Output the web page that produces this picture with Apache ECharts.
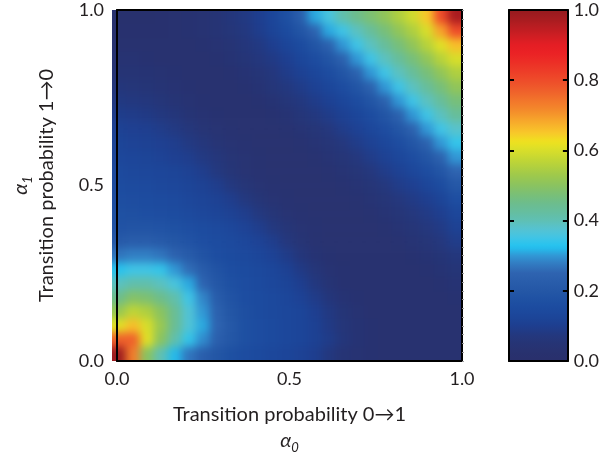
<!DOCTYPE html>
<html>
<head>
<meta charset="utf-8">
<script src="https://cdn.jsdelivr.net/npm/echarts@6/dist/echarts.min.js"></script>
<style>
  html, body { margin: 0; padding: 0; background: #fff; }
  #wrap { position: relative; width: 602px; height: 460px; }
  #clip { position: absolute; left: 112px; top: 10px; width: 350px; height: 351px; overflow: hidden; }
  /* heatmap layer, one padding cell wider on every side, softened */
  #heat { position: absolute; left: -14px; top: -14.04px; width: 378px; height: 379.08px; filter: blur(4px); }
  #chart { position: absolute; left: 0; top: 0; width: 602px; height: 460px; }
</style>
</head>
<body>
<div id="wrap">
  <div id="clip"><div id="heat"></div></div>
  <div id="chart"></div>
</div>
<script>
// cell centres along a0 (x) and a1 (y)
const a0Cells = ['0.02','0.06','0.10','0.14','0.18','0.22','0.26','0.30','0.34','0.38','0.42','0.46','0.50',
  '0.54','0.58','0.62','0.66','0.70','0.74','0.78','0.82','0.86','0.90','0.94','0.98'];
const a1Cells = a0Cells.slice();

// one row per a1 value, from a1 = 0.98 (top) down to a1 = 0.02 (bottom)
const rows = [
  [.02,.02,.02,.025,.03,.035,.04,.05,.065,.08,.10,.13,.17,.23,.31,.36,.41,.45,.48,.51,.55,.59,.65,.80,.97],
  [.025,.025,.025,.025,.03,.035,.04,.05,.06,.075,.095,.12,.15,.19,.25,.31,.35,.39,.43,.47,.51,.55,.60,.69,.80],
  [.03,.03,.03,.03,.03,.03,.035,.04,.05,.065,.08,.10,.125,.15,.19,.24,.30,.35,.39,.43,.47,.51,.56,.61,.66],
  [.04,.04,.035,.03,.03,.03,.03,.035,.045,.055,.07,.085,.105,.13,.155,.19,.24,.30,.35,.39,.43,.47,.51,.56,.60],
  [.05,.05,.045,.04,.035,.03,.03,.03,.035,.045,.055,.07,.09,.11,.13,.155,.19,.24,.30,.35,.39,.43,.47,.51,.55],
  [.065,.06,.055,.05,.04,.035,.03,.03,.03,.035,.045,.06,.075,.09,.11,.13,.155,.19,.24,.30,.35,.39,.43,.47,.51],
  [.08,.075,.07,.06,.05,.04,.035,.03,.03,.03,.035,.045,.06,.075,.09,.11,.13,.155,.19,.24,.30,.35,.39,.43,.47],
  [.095,.09,.085,.075,.065,.05,.04,.035,.03,.03,.03,.035,.045,.06,.075,.09,.11,.13,.155,.19,.24,.30,.35,.39,.43],
  [.11,.105,.10,.09,.08,.065,.05,.04,.035,.03,.03,.03,.035,.045,.055,.07,.09,.11,.13,.155,.19,.24,.30,.35,.38],
  [.12,.115,.11,.105,.095,.08,.065,.05,.04,.035,.03,.03,.03,.035,.045,.055,.07,.09,.11,.13,.155,.19,.24,.30,.34],
  [.13,.125,.12,.115,.105,.095,.08,.065,.05,.04,.035,.03,.03,.03,.035,.045,.055,.07,.09,.11,.13,.155,.19,.24,.30],
  [.14,.135,.13,.125,.12,.11,.095,.075,.055,.04,.035,.03,.03,.03,.03,.035,.045,.055,.07,.09,.11,.13,.155,.19,.25],
  [.15,.145,.14,.135,.13,.12,.11,.095,.075,.055,.04,.035,.03,.03,.03,.03,.035,.045,.055,.07,.09,.105,.125,.15,.20],
  [.16,.155,.15,.145,.14,.13,.12,.11,.095,.075,.055,.04,.035,.03,.03,.03,.03,.035,.045,.055,.07,.085,.10,.12,.16],
  [.17,.165,.16,.155,.15,.14,.13,.12,.11,.095,.075,.055,.04,.035,.03,.03,.03,.03,.035,.045,.055,.07,.085,.10,.13],
  [.18,.185,.185,.18,.17,.16,.15,.14,.13,.115,.095,.075,.055,.04,.035,.03,.03,.03,.03,.035,.045,.055,.07,.085,.11],
  [.21,.22,.22,.21,.195,.18,.16,.15,.14,.13,.115,.095,.07,.05,.035,.03,.03,.03,.03,.03,.035,.045,.055,.07,.09],
  [.27,.28,.28,.27,.245,.215,.185,.16,.15,.14,.13,.115,.09,.065,.045,.035,.03,.03,.03,.03,.03,.035,.045,.055,.07],
  [.33,.35,.35,.34,.30,.26,.22,.185,.16,.15,.14,.13,.11,.085,.06,.04,.035,.03,.03,.03,.03,.03,.035,.045,.055],
  [.39,.41,.41,.39,.36,.31,.25,.20,.17,.155,.145,.135,.12,.10,.075,.05,.035,.03,.03,.03,.03,.03,.03,.035,.045],
  [.45,.49,.48,.45,.41,.35,.285,.22,.185,.16,.15,.14,.13,.115,.09,.065,.045,.035,.03,.03,.03,.03,.03,.03,.035],
  [.52,.57,.55,.50,.44,.37,.30,.24,.195,.165,.15,.14,.135,.125,.105,.08,.055,.04,.03,.03,.03,.03,.03,.03,.03],
  [.61,.66,.60,.52,.44,.37,.31,.25,.205,.17,.155,.145,.135,.125,.11,.085,.06,.045,.035,.03,.03,.03,.03,.03,.03],
  [.77,.77,.61,.50,.41,.34,.29,.235,.20,.17,.155,.145,.135,.125,.11,.09,.065,.045,.035,.03,.03,.03,.03,.03,.03],
  [.99,.73,.50,.40,.32,.27,.23,.195,.17,.155,.145,.135,.125,.115,.10,.075,.05,.04,.035,.03,.03,.03,.03,.03,.03]
];

const colorTicks = [0, 0.2, 0.4, 0.6, 0.8, 1];

// colour scale, 0 -> 1 in steps of 0.025
const scaleColors = [
  '#29306c','#28316f','#263475','#23387f','#1e3e8f','#1c4599','#1c4b9f','#1f51a3','#2457a6','#295dab',
  '#2e63b0','#3279c0','#3197d5','#22c3f0','#3fc4e6','#55c3d2','#5fc0b4','#65be9f','#6dbd8c','#7abf76',
  '#8ac360','#9bc84e','#afcf40','#c3d634','#d8de2a','#efe21f','#f8c82a','#f7b02b','#f5982b','#f3822b',
  '#f16f2b','#ef5c2b','#ee4c2a','#ed3d28','#ec2f26','#eb2225','#e51e24','#d01e23','#bb1d22','#a61c20','#951b1f'
];

const FONT = 'Lato, "DejaVu Sans", sans-serif';
const INK = '#231f20';

// heatmap layer: the grid of cells, plus one copy of the outer cells on each side
// so the softening filter has something to blend with at the clipped edges
const padCats = ['pad0'].concat(a0Cells, ['pad1']);
const padRows = [rows[0]].concat(rows, [rows[rows.length - 1]])
  .map(r => [r[0]].concat(r, [r[r.length - 1]]));
const cells = [];
padRows.forEach((row, r) => {
  row.forEach((v, c) => cells.push([c, padRows.length - 1 - r, v]));
});

const heat = echarts.init(document.getElementById('heat'));
heat.setOption({
  animation: false,
  grid: { left: 0, top: 0, right: 0, bottom: 0 },
  xAxis: { type: 'category', data: padCats, show: false },
  yAxis: { type: 'category', data: padCats, show: false },
  visualMap: { type: 'continuous', min: 0, max: 1, show: false, inRange: { color: scaleColors } },
  series: [{ type: 'heatmap', data: cells, emphasis: { disabled: true } }]
});

// axes, frame and colour bar
const chart = echarts.init(document.getElementById('chart'));

const frameLine = { show: true, onZero: false, lineStyle: { color: '#000', width: 2 } };
const noLabel = { show: false };
const subRich = {
  a: { fontFamily: FONT, fontSize: 20, fontStyle: 'italic', color: INK, lineHeight: 26 },
  s: { fontFamily: FONT, fontSize: 13, fontStyle: 'italic', color: INK, lineHeight: 26, verticalAlign: 'bottom' }
};
const titleStyle = { fontFamily: FONT, fontSize: 20, color: INK, lineHeight: 26, rich: subRich };
const tickLabel = { fontFamily: FONT, fontSize: 18, color: INK, formatter: v => v.toFixed(1) };

chart.setOption({
  animation: false,
  grid: [
    { left: 112, top: 10, width: 350, height: 351 },
    { left: 509, top: 10, width: 60, height: 351 }
  ],
  xAxis: [
    {
      gridIndex: 0, type: 'value', min: 0, max: 1, interval: 0.5, position: 'bottom', z: 10,
      axisLine: frameLine, axisTick: { show: false }, splitLine: noLabel,
      axisLabel: Object.assign({ margin: 9 }, tickLabel),
      name: 'Transition probability 0→1\n{a|α}{s|0}',
      nameLocation: 'middle', nameGap: 41, nameTextStyle: titleStyle
    },
    {
      gridIndex: 0, type: 'value', min: 0, max: 1, position: 'top', z: 10,
      axisLine: frameLine, axisTick: noLabel, axisLabel: noLabel, splitLine: noLabel
    },
    { gridIndex: 1, type: 'category', data: ['bar'], show: false },
    {
      gridIndex: 1, type: 'value', min: 0, max: 1, position: 'bottom', z: 10,
      axisLine: frameLine, axisTick: noLabel, axisLabel: noLabel, splitLine: noLabel
    },
    {
      gridIndex: 1, type: 'value', min: 0, max: 1, position: 'top', z: 10,
      axisLine: frameLine, axisTick: noLabel, axisLabel: noLabel, splitLine: noLabel
    }
  ],
  yAxis: [
    {
      gridIndex: 0, type: 'value', min: 0, max: 1, interval: 0.5, position: 'left', z: 10,
      axisLine: frameLine, axisTick: { show: false }, splitLine: noLabel,
      axisLabel: Object.assign({ margin: 13 }, tickLabel),
      name: '{a|α}{s|1}\nTransition probability 1→0',
      nameLocation: 'middle', nameGap: 57, nameRotate: 90, nameTextStyle: titleStyle
    },
    {
      gridIndex: 0, type: 'value', min: 0, max: 1, interval: 0.025, position: 'right', z: 10,
      axisLine: frameLine, axisLabel: noLabel, splitLine: noLabel,
      axisTick: { show: true, length: 2, lineStyle: { color: '#9a9a9a', width: 1 } }
    },
    { gridIndex: 1, type: 'category', data: ['bar'], show: false },
    {
      gridIndex: 1, type: 'value', min: 0, max: 1, interval: 0.2, position: 'right', z: 10,
      axisLine: frameLine, splitLine: noLabel,
      axisTick: { show: true, inside: true, length: 5, lineStyle: { color: '#000', width: 2 } },
      axisLabel: Object.assign({ margin: 6 }, tickLabel, {
        formatter: v => colorTicks.indexOf(+v.toFixed(1)) >= 0 ? v.toFixed(1) : ''
      })
    },
    {
      gridIndex: 1, type: 'value', min: 0, max: 1, interval: 0.2, position: 'left', z: 10,
      axisLine: frameLine, splitLine: noLabel, axisLabel: noLabel,
      axisTick: { show: true, inside: true, length: 5, lineStyle: { color: '#000', width: 2 } }
    }
  ],
  visualMap: {
    type: 'continuous', min: 0, max: 1, seriesIndex: 0,
    left: 509, top: 10, itemWidth: 60, itemHeight: 351, padding: 0,
    calculable: false, realtime: false, hoverLink: false,
    inRange: { color: scaleColors }
  },
  series: [{
    type: 'heatmap', xAxisIndex: 2, yAxisIndex: 2, data: [],
    emphasis: { disabled: true }
  }]
});
</script>
</body>
</html>
